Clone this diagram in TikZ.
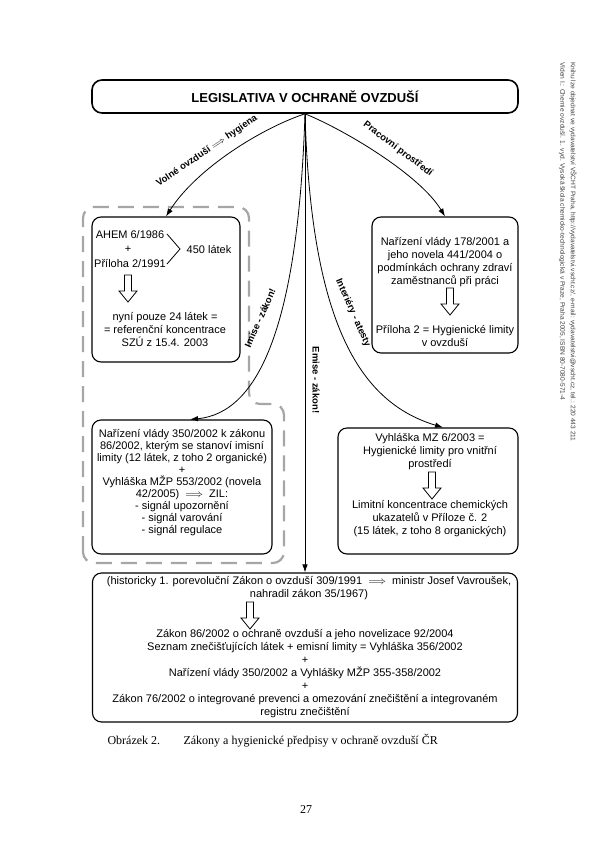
\documentclass[tikz,border=0pt]{standalone}
\usepackage{fontspec}
\setmainfont{Liberation Serif}
\setsansfont{Liberation Sans}
\usepackage{amsmath}
\usetikzlibrary{arrows.meta,positioning}
\tikzstyle{box} = [draw, line width=1.1pt, rounded corners=9pt, inner sep=0pt]
\tikzstyle{arrow} = [line width=0.8pt, -{Latex[length=8pt,width=5.5pt]}]
\tikzstyle{lbl} = [font=\sffamily\bfseries\fontsize{9.5}{11}\selectfont, inner sep=0pt]
\tikzstyle{txt} = [font=\sffamily\fontsize{11}{13}\selectfont, align=center, inner sep=0pt]
\tikzstyle{region} = [draw=black!35, line width=2.2pt, dash pattern=on 16pt off 9pt, rounded corners=11pt]
\tikzset{hollow/.pic={\draw[line width=0.8pt] (-3.5,0) -- (-3.5,-16) -- (-9,-16) -- (0,-27) -- (9,-16) -- (3.5,-16) -- (3.5,0) -- cycle;}}

\begin{document}
\begin{tikzpicture}[x=1pt,y=1pt]
		\useasboundingbox (0,0) rectangle (600,-849);
		\coordinate (titlepos) at (305,-96.5);
		\coordinate (ahempos) at (166,-289.5);
		\coordinate (pracpos) at (445,-285);
		\coordinate (nvpos) at (182,-487);
		\coordinate (vyhpos) at (428,-491);
		\coordinate (zakonpos) at (305,-647.5);
		% Title
		\node[name=title, draw, line width=1.6pt, rounded corners=10pt, minimum width=426, minimum height=33, font=\sffamily\bfseries\fontsize{13}{15}\selectfont] at (titlepos) {LEGISLATIVA V OCHRANĚ OVZDUŠÍ};
		\coordinate (origin) at (title.south);
		% Outline of free air
		\draw[region] (83,-563) -- (83,-207) -- (249,-207) -- (249,-404) -- (284,-404) -- (284,-563) -- cycle;
		% Boxes
		\begin{scope}[every node/.style={box}]
		\node[name=ahem, minimum width=148, minimum height=145] at (ahempos) {};
		\node[name=prac, minimum width=146, minimum height=136] at (pracpos) {};
		\node[name=nv, minimum width=180, minimum height=134] at (nvpos) {};
		\node[name=vyh, minimum width=180, minimum height=126] at (vyhpos) {};
		\node[name=zakon, minimum width=425, minimum height=149] at (zakonpos) {};
		\end{scope}
		% Texts in boxes
		\begin{scope}[every node/.style={txt}]
		\node[name=ahem1] at (130,-235) {AHEM 6/1986};
		\node[name=ahem2] at (128,-249) {+};
		\node[name=ahem3] at (130,-263) {Příloha 2/1991};
		\node[name=latek] at (209,-249) {450 látek};
		\node[name=ahem4] at (165,-329.5) {nyní pouze 24 látek =\\= referenční koncentrace\\SZÚ z 15.4. 2003};
		\node[name=prac1] at (445,-262.5) {Nařízení vlády 178/2001 a\\jeho novela 441/2004 o\\podmínkách ochrany zdraví\\zaměstnanců při práci};
		\node[name=prac2] at (445,-336) {Příloha 2 = Hygienické limity\\v ovzduší};
		\node[name=nv1, font=\sffamily\fontsize{11}{12.1}\selectfont] at (182,-482.5) {Nařízení vlády 350/2002 k zákonu\\86/2002, kterým se stanoví imisní\\limity (12 látek, z toho 2 organické)\\+\\Vyhláška MŽP 553/2002 (novela\\42/2005) ~$\Longrightarrow$~ ZIL:\\- signál upozornění\\- signál varování\\- signál regulace};
		\node[name=vyh1] at (430,-451.5) {Vyhláška MZ 6/2003 =\\Hygienické limity pro vnitřní\\prostředí};
		\node[name=vyh2] at (430,-519) {Limitní koncentrace chemických\\ukazatelů v Příloze č. 2\\(15 látek, z toho 8 organických)};
		\node[name=zak1] at (309,-588.5) {(historicky 1. porevoluční Zákon o ovzduší 309/1991 ~$\Longrightarrow$~ ministr Josef Vavroušek,\\nahradil zákon 35/1967)};
		\node[name=zak2] at (305,-674) {Zákon 86/2002 o ochraně ovzduší a jeho novelizace 92/2004\\Seznam znečišťujících látek + emisní limity = Vyhláška 356/2002\\+\\Nařízení vlády 350/2002 a Vyhlášky MŽP 355-358/2002\\+\\Zákon 76/2002 o integrované prevenci a omezování znečištění a integrovaném\\registru znečištění};
		\end{scope}
		% 450 latek brace and hollow arrows
		\draw[line width=0.8pt] (167,-234) -- (180,-249) -- (167,-264);
		\pic (harr1) at (128,-275) {hollow};
		\pic (harr2) at (450,-288) {hollow};
		\pic (harr3) at (432,-472) {hollow};
		\pic (harr4) at (250,-602) {hollow};
		% Arrows from the title
		\draw [arrow] (origin) .. controls (262,-128) and (197,-168) .. (ahem.north);
		\draw [arrow] (origin) .. controls (345,-130) and (420,-175) .. (prac.north);
		\draw [arrow] (origin) .. controls (298,-325) and (259,-413) .. ([xshift=8pt]nv.north);
		\draw [arrow] (origin) .. controls (311,-320) and (358,-402) .. ([xshift=15pt]vyh.north);
		\draw [arrow] (origin) -- (zakon.north);
		% Labels of the arrows
		\begin{scope}[every node/.style={lbl}]
		\node[name=volne, rotate=34] at (207,-151) {Volné ovzduší $\Longrightarrow$ hygiena};
		\node[name=pracovni, rotate=-37] at (398,-149) {Pracovní prostředí};
		\node[name=imise, rotate=66] at (260,-318) {Imise - zákon!};
		\node[name=emise, rotate=-90] at (316,-380) {Emise - zákon!};
		\node[name=interiery, rotate=-66] at (353,-313) {Interiéry - atesty};
		\end{scope}
		% Caption, page number, side note
		\node[name=cap1, anchor=base west, font=\fontsize{12}{14}\selectfont] at (104,-744) {Obrázek 2.};
		\node[name=cap2, anchor=base west, font=\fontsize{12}{14}\selectfont] at (180,-744) {Zákony a hygienické předpisy v ochraně ovzduší ČR};
		\node[name=page, font=\fontsize{12}{14}\selectfont] at (306,-810) {27};
		\begin{scope}[every node/.style={anchor=west, rotate=-90, inner sep=0pt, text=black!75, font=\sffamily\fontsize{6.6}{8}\selectfont}]
		\node[name=side1] at (562,-62) {Víden I.: Chemie ovzduší. 1. vyd. Vysoká škola chemicko-technologická v Praze, Praha 2005, ISBN 80-7080-571-4};
		\node[name=side2] at (573,-62) {Knihu lze objednat ve vydavatelství VŠCHT Praha, http://vydavatelstvi.vscht.cz/, e-mail: vydavatelstvi@vscht.cz, tel.: 220 443 211};
		\end{scope}
\end{tikzpicture}
\end{document}
